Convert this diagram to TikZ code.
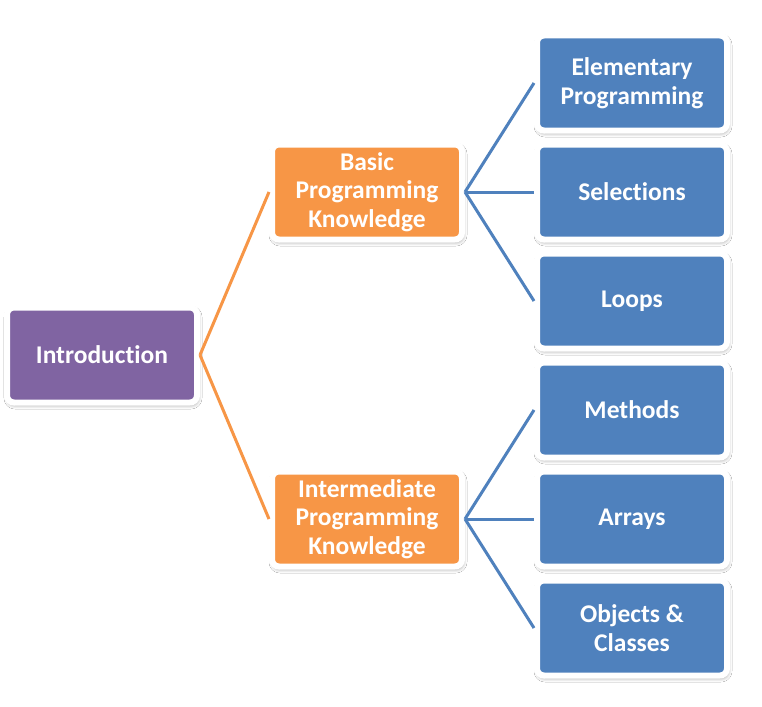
\documentclass[tikz,border=0pt]{standalone}
\usepackage{fontspec}
\setmainfont{Carlito}[Ligatures=NoCommon]
\usetikzlibrary{shadows.blur}
\definecolor{topicpurple}{HTML}{8064A2}
\definecolor{topicorange}{HTML}{F79646}
\definecolor{topicblue}{HTML}{4F81BD}
\tikzset{
  box/.style={rectangle, rounded corners=7pt, draw=white, line width=6pt,
    minimum width=190pt, minimum height=95pt, inner sep=2pt, align=center,
    text=white, font=\fontsize{25.5}{28.5}\selectfont\bfseries,
    blur shadow={shadow xshift=1pt, shadow yshift=-2.5pt, shadow blur radius=4pt,
      shadow blur steps=8, shadow opacity=40}},
  rootbox/.style={box, fill=topicpurple},
  midbox/.style={box, fill=topicorange},
  leafbox/.style={box, fill=topicblue},
  orangelink/.style={draw=topicorange, line width=3pt},
  bluelink/.style={draw=topicblue, line width=3pt}
}
\begin{document}
\begin{tikzpicture}[x=1pt, y=-1pt]
  \fill[white] (0,0) rectangle (762,706);
  \useasboundingbox (0,0) rectangle (762,706);

  \node[rootbox] (intro) at (102,355) {Introduction};

  \node[midbox] (basic) at (367,192) {Basic\\Programming\\Knowledge};
  \node[midbox] (inter) at (367,519) {Intermediate\\Programming\\Knowledge};

  \node[leafbox] (elem) at (632,83) {Elementary\\Programming};
  \node[leafbox] (sel)  at (632,192) {Selections};
  \node[leafbox] (loop) at (632,301) {Loops};
  \node[leafbox] (meth) at (632,410) {Methods};
  \node[leafbox] (arr)  at (632,519) {Arrays};
  \node[leafbox] (obj)  at (632,628) {Objects \&\\Classes};

  \begin{scope}[on background layer/.try]
  \draw[orangelink] (intro.east) -- (basic.west);
  \draw[orangelink] (intro.east) -- (inter.west);

  \foreach \leaf in {elem,sel,loop}
    \draw[bluelink] (basic.east) -- (\leaf.west);
  \foreach \leaf in {meth,arr,obj}
    \draw[bluelink] (inter.east) -- (\leaf.west);
  \end{scope}
\end{tikzpicture}
\end{document}
